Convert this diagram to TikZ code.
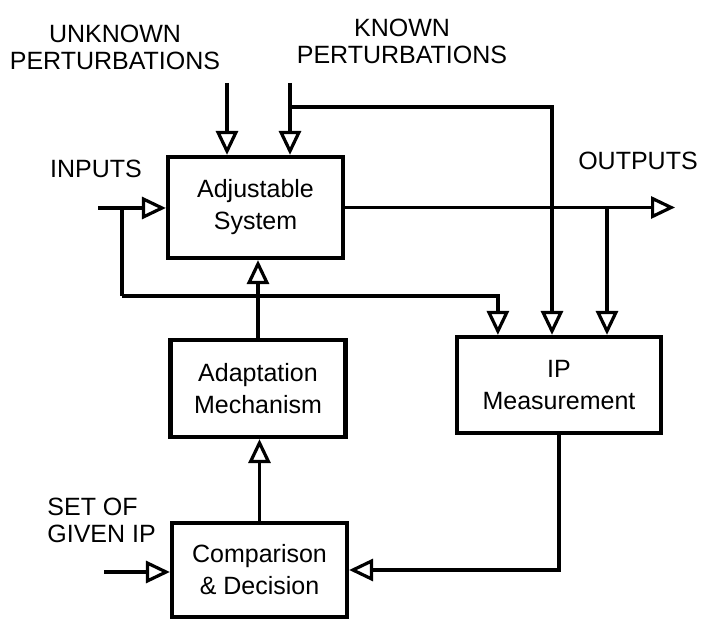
\documentclass[tikz,border=0pt]{standalone}
\usepackage{fontspec}
\setmainfont{Liberation Sans}
\usetikzlibrary{arrows.meta}
\begin{document}
\begin{tikzpicture}[x=0.5pt,y=-0.5pt,
    block/.style={draw, line width=2.1pt, align=center, inner sep=0pt, font=\fontsize{12.5}{16}\selectfont},
    lbl/.style={align=center, inner sep=0pt, font=\fontsize{12.5}{13.5}\selectfont},
    wire/.style={line width=1.9pt},
    arr/.style={line width=1.9pt, -{Triangle[open, length=12pt, width=11pt, line width=1.6pt]}}]
  \useasboundingbox (0,0) rectangle (702,619);
  % blocks
  \node[block, minimum width=87.5pt, minimum height=50.5pt] (adj) at (255.5,207.5) {Adjustable\\System};
  \node[block, minimum width=87.5pt, minimum height=48.5pt] (adapt) at (258,388.5) {Adaptation\\Mechanism};
  \node[block, minimum width=102pt, minimum height=48pt] (ipm) at (559,385) {IP\\Measurement};
  \node[block, minimum width=87.5pt, minimum height=47pt] (cmp) at (259.5,570) {Comparison\\\& Decision};
  % labels
  \node[lbl] (unklbl) at (115,47) {UNKNOWN\\PERTURBATIONS};
  \node[lbl] (knlbl) at (402,41) {KNOWN\\PERTURBATIONS};
  \node[lbl] (inlbl) at (96,169) {INPUTS};
  \node[lbl] (outlbl) at (638,161) {OUTPUTS};
  \node[lbl, align=left, anchor=west] (setlbl) at (47,520) {SET OF\\GIVEN IP};
  % free ends
  \coordinate (unk) at (227,83);
  \coordinate (kn) at (290,83);
  \coordinate (kbr) at (290,107);
  \coordinate (in) at (98,208);
  \coordinate (fb) at (122,208);
  \coordinate (fbc) at (122,296);
  \coordinate (out) at (675,207.5);
  \coordinate (obr) at (607,207.5);
  \coordinate (set) at (104,572);
  % connectors
  \draw[arr] (unk) -- (unk |- adj.north);
  \draw[arr] (kn) -- (kn |- adj.north);
  \draw[arr] (kbr) -| ([xshift=-3.5pt]ipm.north);
  \draw[arr] (in) -- (in -| adj.west);
  \draw[wire] (fb) -- (fbc);
  \draw[arr] (fbc) -| ([xshift=21.5pt]ipm.north west);
  \draw[arr] (adj.east) -- (out);
  \draw[arr] (obr) -- ([xshift=24pt]ipm.north);
  \draw[arr] (adapt.north) -- (adapt.north |- adj.south);
  \draw[arr] (cmp.north) -- (cmp.north |- adapt.south);
  \draw[arr] (ipm.south) |- (cmp.east);
  \draw[arr] (set) -- (set -| cmp.west);
\end{tikzpicture}
\end{document}
